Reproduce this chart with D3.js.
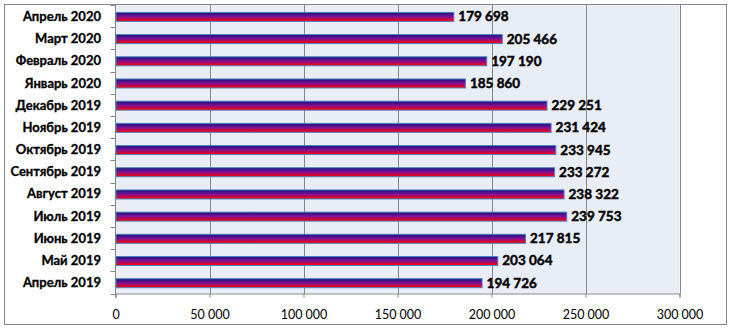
<!DOCTYPE html>
<html><head><meta charset="utf-8">
<script src="https://cdn.jsdelivr.net/npm/d3@7"></script>
<style>body{margin:0;background:#fff}svg{display:block}</style>
</head><body><svg id="c" width="732" height="330"></svg>
<script>
const categories = ["Апрель 2020","Март 2020","Февраль 2020","Январь 2020","Декабрь 2019","Ноябрь 2019","Октябрь 2019","Сентябрь 2019","Август 2019","Июль 2019","Июнь 2019","Май 2019","Апрель 2019"];
const values = [179698,205466,197190,185860,229251,231424,233945,233272,238322,239753,217815,203064,194726];
const xTicks = [0,50000,100000,150000,200000,250000,300000];

(function(){
const svg = d3.select("#c");
const fmt = v => d3.format(",")(v).replace(/,/g, " ");
const pL = 115.5, pR = 679.5, pT = 5, pB = 293.5;
const x = d3.scaleLinear().domain([0,300000]).range([pL,pR]);
const y = d3.scaleBand().domain(categories).range([pT,pB]);

const defs = svg.append("defs");
const g = defs.append("linearGradient").attr("id","bg").attr("x1",0).attr("y1",0).attr("x2",0).attr("y2",1);
g.append("stop").attr("offset","0%").attr("stop-color","#12127a");
g.append("stop").attr("offset","45%").attr("stop-color","#7a1298");
g.append("stop").attr("offset","100%").attr("stop-color","#ff0000");

svg.append("rect").attr("x",4.5).attr("y",4.5).attr("width",722).attr("height",320).attr("fill","#fff").attr("stroke","#868686");
svg.append("rect").attr("x",pL).attr("y",pT).attr("width",pR-pL).attr("height",pB-pT).attr("fill","#e9edf6");

svg.selectAll(".grid").data(xTicks.slice(1)).join("line")
  .attr("x1",d=>Math.round(x(d))+0.5).attr("x2",d=>Math.round(x(d))+0.5)
  .attr("y1",pT).attr("y2",pB).attr("stroke","#868686");

const xa = svg.append("g").attr("transform",`translate(0,${pB})`)
  .call(d3.axisBottom(x).tickValues(xTicks).tickFormat(fmt).tickSize(4).tickPadding(13));
xa.select(".domain").attr("stroke","#868686");
xa.selectAll(".tick line").attr("stroke","#868686");
xa.selectAll("text").attr("font-family","Lato, 'Open Sans', sans-serif").attr("font-size","12.5px").attr("fill","#000");

svg.append("line").attr("x1",pL).attr("x2",pL).attr("y1",pT).attr("y2",pB+4).attr("stroke","#868686");
const bounds = categories.map(c=>y(c)).concat([pB]);
svg.selectAll(".yt").data(bounds).join("line")
  .attr("x1",pL-5).attr("x2",pL).attr("y1",d=>Math.round(d)+0.5).attr("y2",d=>Math.round(d)+0.5).attr("stroke","#868686");

const bh = 9;
svg.selectAll(".bar").data(values).join("rect")
  .attr("x",pL+0.5).attr("y",(d,i)=>y(categories[i])+y.bandwidth()/2-bh/2+0.8)
  .attr("width",d=>x(d)-pL).attr("height",bh)
  .attr("fill","url(#bg)").attr("stroke","#4f81bd").attr("stroke-width",1);

svg.selectAll(".val").data(values).join("text")
  .attr("x",d=>x(d)+5).attr("y",(d,i)=>y(categories[i])+y.bandwidth()/2+1.8)
  .attr("dominant-baseline","middle")
  .attr("font-family","Lato, 'Open Sans', sans-serif").attr("font-weight","bold").attr("font-size","13.5px")
  .attr("stroke","#000").attr("stroke-width",0.45)
  .text(fmt);

svg.selectAll(".cat").data(categories).join("text")
  .attr("x",101).attr("y",d=>y(d)+y.bandwidth()/2+1.5)
  .attr("text-anchor","end").attr("dominant-baseline","middle")
  .attr("font-family","Lato, 'Open Sans', sans-serif").attr("font-weight","bold").attr("font-size","13px")
  .attr("stroke","#000").attr("stroke-width",0.3)
  .text(d=>d);
})();
</script></body></html>
